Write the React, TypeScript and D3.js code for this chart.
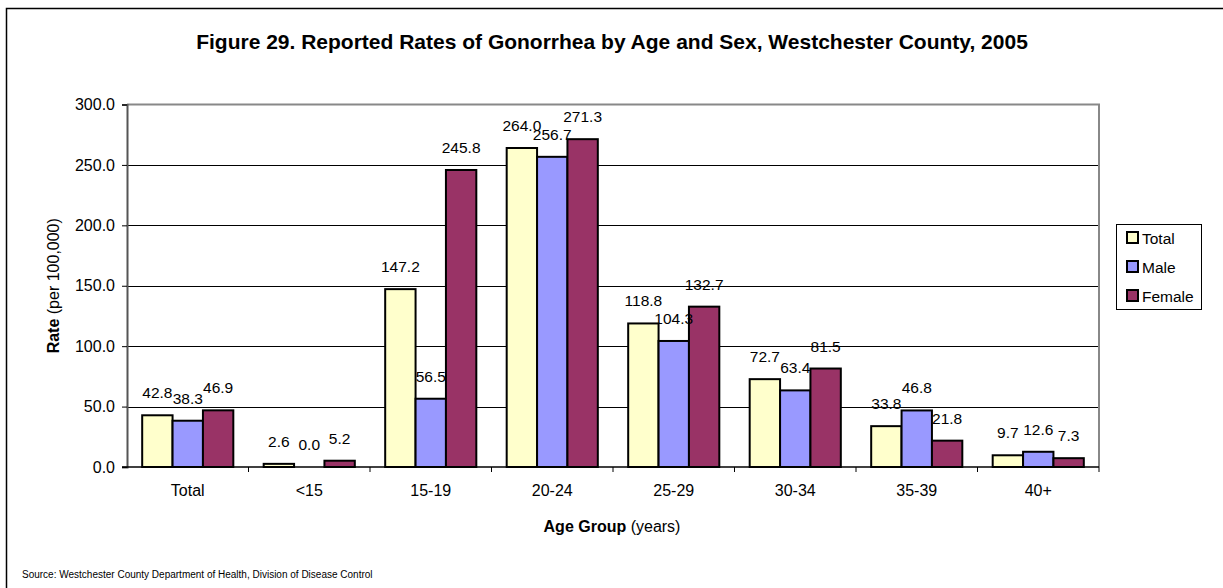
import { useEffect, useRef } from 'react';
import * as d3 from 'd3';

const categories = ['Total', '<15', '15-19', '20-24', '25-29', '30-34', '35-39', '40+'];
const seriesNames = ['Total', 'Male', 'Female'];
const totalRates = [42.8, 2.6, 147.2, 264.0, 118.8, 72.7, 33.8, 9.7];
const maleRates = [38.3, 0.0, 56.5, 256.7, 104.3, 63.4, 46.8, 12.6];
const femaleRates = [46.9, 5.2, 245.8, 271.3, 132.7, 81.5, 21.8, 7.3];
const yTicks = [0, 50, 100, 150, 200, 250, 300];

const colors = ['#FFFFCC', '#9999FF', '#993366'];
const FONT = 'Arial, "Liberation Sans", sans-serif';

export default function App() {
  const svgRef = useRef<SVGSVGElement>(null);

  useEffect(() => {
    if (!svgRef.current) return;
    const width = 1223;
    const height = 588;
    const margin = { top: 104.5, right: 124, bottom: 121, left: 127 };

    const svg = d3.select(svgRef.current);
    svg.selectAll('*').remove();

    // outer frame (only left/top visible in the picture)
    svg.append('rect')
      .attr('x', 6.5).attr('y', 8.5)
      .attr('width', width + 20).attr('height', height + 20)
      .attr('fill', '#fff').attr('stroke', '#000').attr('stroke-width', 1.5);

    const x0 = d3.scaleBand()
      .domain(categories)
      .range([margin.left, width - margin.right]);

    const x1 = d3.scaleBand()
      .domain(seriesNames)
      .range([0, x0.bandwidth()])
      .paddingOuter(0.5)
      .paddingInner(0);

    const y = d3.scaleLinear()
      .domain([0, 300])
      .range([height - margin.bottom, margin.top]);

    // title
    svg.append('text')
      .attr('x', 612).attr('y', 49)
      .attr('text-anchor', 'middle')
      .style('font-family', FONT).style('font-size', '21px').style('font-weight', 'bold')
      .text('Figure 29. Reported Rates of Gonorrhea by Age and Sex, Westchester County, 2005');

    // gridlines
    svg.append('g')
      .selectAll('line')
      .data(yTicks.filter(t => t > 0 && t < 300))
      .join('line')
      .attr('x1', margin.left).attr('x2', width - margin.right)
      .attr('y1', d => Math.round(y(d)) + 0.5).attr('y2', d => Math.round(y(d)) + 0.5)
      .attr('stroke', '#000').attr('stroke-width', 1);

    // plot area border (top + right)
    svg.append('path')
      .attr('d', `M${margin.left},${y(300)}H${width - margin.right}V${y(0)}`)
      .attr('fill', 'none').attr('stroke', '#888').attr('stroke-width', 2);

    // bars
    const data = categories.map((c, i) => ({
      cat: c,
      values: [totalRates[i], maleRates[i], femaleRates[i]],
    }));

    const groups = svg.append('g')
      .selectAll('g')
      .data(data)
      .join('g')
      .attr('transform', d => `translate(${x0(d.cat)},0)`);

    groups.selectAll('rect')
      .data(d => d.values.map((v, j) => ({ v, s: seriesNames[j], j })))
      .join('rect')
      .attr('x', d => x1(d.s)!)
      .attr('y', d => y(d.v))
      .attr('width', x1.bandwidth())
      .attr('height', d => y(0) - y(d.v))
      .attr('fill', d => colors[d.j])
      .attr('stroke', '#000').attr('stroke-width', 2);

    groups.selectAll('text')
      .data(d => d.values.map((v, j) => ({ v, s: seriesNames[j] })))
      .join('text')
      .attr('x', d => x1(d.s)! + x1.bandwidth() / 2)
      .attr('y', d => y(d.v) - 17)
      .attr('text-anchor', 'middle')
      .style('font-family', FONT).style('font-size', '15.5px')
      .text(d => d.v.toFixed(1));

    // y axis
    const yAxis = svg.append('g')
      .attr('transform', `translate(${margin.left},0)`)
      .call(d3.axisLeft(y).tickValues(yTicks).tickSize(5).tickFormat(d => Number(d).toFixed(1)));
    yAxis.select('.domain').attr('stroke', '#555').attr('stroke-width', 2);
    yAxis.selectAll('.tick line').attr('stroke', '#000');
    yAxis.selectAll('text')
      .attr('x', -12)
      .style('font-family', FONT).style('font-size', '16px').attr('fill', '#000');

    // x axis
    const xAxis = svg.append('g')
      .attr('transform', `translate(0,${y(0)})`);
    xAxis.append('line')
      .attr('x1', margin.left - 5).attr('x2', width - margin.right)
      .attr('stroke', '#000').attr('stroke-width', 1.5);
    xAxis.selectAll('line.tick')
      .data(categories.slice(1).concat(['end']))
      .join('line')
      .attr('class', 'tick')
      .attr('x1', d => d === 'end' ? width - margin.right : x0(d)!)
      .attr('x2', d => d === 'end' ? width - margin.right : x0(d)!)
      .attr('y1', 0).attr('y2', 5)
      .attr('stroke', '#000');
    xAxis.selectAll('text')
      .data(categories)
      .join('text')
      .attr('x', d => x0(d)! + x0.bandwidth() / 2)
      .attr('y', 29)
      .attr('text-anchor', 'middle')
      .style('font-family', FONT).style('font-size', '16px')
      .text(d => d);

    // axis titles
    const xt = svg.append('text')
      .attr('x', 612).attr('y', 532)
      .attr('text-anchor', 'middle')
      .style('font-family', FONT).style('font-size', '16px');
    xt.append('tspan').style('font-weight', 'bold').text('Age Group');
    xt.append('tspan').text(' (years)');

    const yt = svg.append('text')
      .attr('transform', `translate(59,${(y(0) + y(300)) / 2}) rotate(-90)`)
      .attr('text-anchor', 'middle')
      .style('font-family', FONT).style('font-size', '16px');
    yt.append('tspan').style('font-weight', 'bold').text('Rate');
    yt.append('tspan').text(' (per 100,000)');

    // legend
    const lg = svg.append('g').attr('transform', 'translate(1116,224)');
    lg.append('rect')
      .attr('x', 0.5).attr('y', 0.5).attr('width', 85).attr('height', 85)
      .attr('fill', '#fff').attr('stroke', '#000');
    seriesNames.forEach((name, i) => {
      const cy = 13.5 + i * 29;
      lg.append('rect')
        .attr('x', 11).attr('y', cy - 5.5).attr('width', 11).attr('height', 11)
        .attr('fill', colors[i]).attr('stroke', '#000').attr('stroke-width', 2);
      lg.append('text')
        .attr('x', 26).attr('y', cy + 6)
        .style('font-family', FONT).style('font-size', '15.5px')
        .text(name);
    });

    // source
    svg.append('text')
      .attr('x', 22).attr('y', 578)
      .style('font-family', FONT).style('font-size', '10px')
      .text('Source: Westchester County Department of Health, Division of Disease Control');
  }, []);

  return (
    <div style={{ position: 'absolute', left: 0, top: 0 }}>
      <svg ref={svgRef} width={1223} height={588} style={{ display: 'block' }}></svg>
    </div>
  );
}
